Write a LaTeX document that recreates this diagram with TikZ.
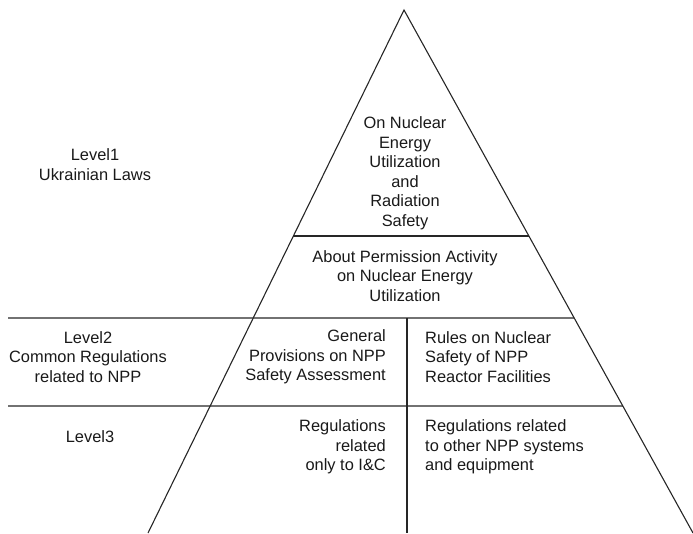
\documentclass[tikz,border=0pt]{standalone}
\usepackage{fontspec}
\setmainfont{Liberation Sans}
\usetikzlibrary{calc}
\begin{document}
\begin{tikzpicture}[x=1pt,y=-1pt,
  edge/.style={line width=1.1pt, draw=black!85},
  lbl/.style={font=\fontsize{16.4}{19.5}\selectfont, text=black!90, inner sep=0pt},
  ctext/.style={lbl, align=center},
  rtext/.style={lbl, align=right, anchor=east},
  ltext/.style={lbl, align=left, anchor=west}]
\useasboundingbox (0,0) rectangle (693,533);
% triangle corners
\coordinate (apex) at (404,10);
\coordinate (bl) at (148,533);
\coordinate (br) at (693,533);
% level line end points on the edges
\coordinate (l1L) at ($(apex)!{226/523}!(bl)$);
\coordinate (l1R) at ($(apex)!{226/523}!(br)$);
\coordinate (l2R) at ($(apex)!{308/523}!(br)$);
\coordinate (l3R) at ($(apex)!{396/523}!(br)$);
\coordinate (l2L) at (8,318);
\coordinate (l3L) at (8,406);
\coordinate (vtop) at (407,318);
\coordinate (vbot) at (407,533);
\draw[edge] (bl) -- (apex) -- (br);
\draw[edge] (l1L) -- (l1R);
\draw[edge] (l2L) -- (l2R);
\draw[edge] (l3L) -- (l3R);
\draw[edge] (vtop) -- (vbot);
% texts
\node[ctext] (law1) at (405,173.5) {On Nuclear\\Energy\\Utilization\\and\\Radiation\\Safety};
\node[ctext] (lev1) at (95,164.5) {Level1\\Ukrainian Laws};
\node[ctext] (law2) at (405,276) {About Permission Activity\\on Nuclear Energy\\Utilization};
\node[ctext] (lev2) at (88,357) {Level2\\Common Regulations\\related to NPP};
\node[rtext] (gen) at (386,357) {General\\Provisions on NPP\\Safety Assessment};
\node[ltext] (rules) at (425,357) {Rules on Nuclear\\Safety of NPP\\Reactor Facilities};
\node[ctext] (lev3) at (90,437) {Level3};
\node[rtext] (regic) at (386,447) {Regulations\\related\\only to I\&C};
\node[ltext] (regoth) at (425,447) {Regulations related\\to other NPP systems\\and equipment};
\end{tikzpicture}
\end{document}
